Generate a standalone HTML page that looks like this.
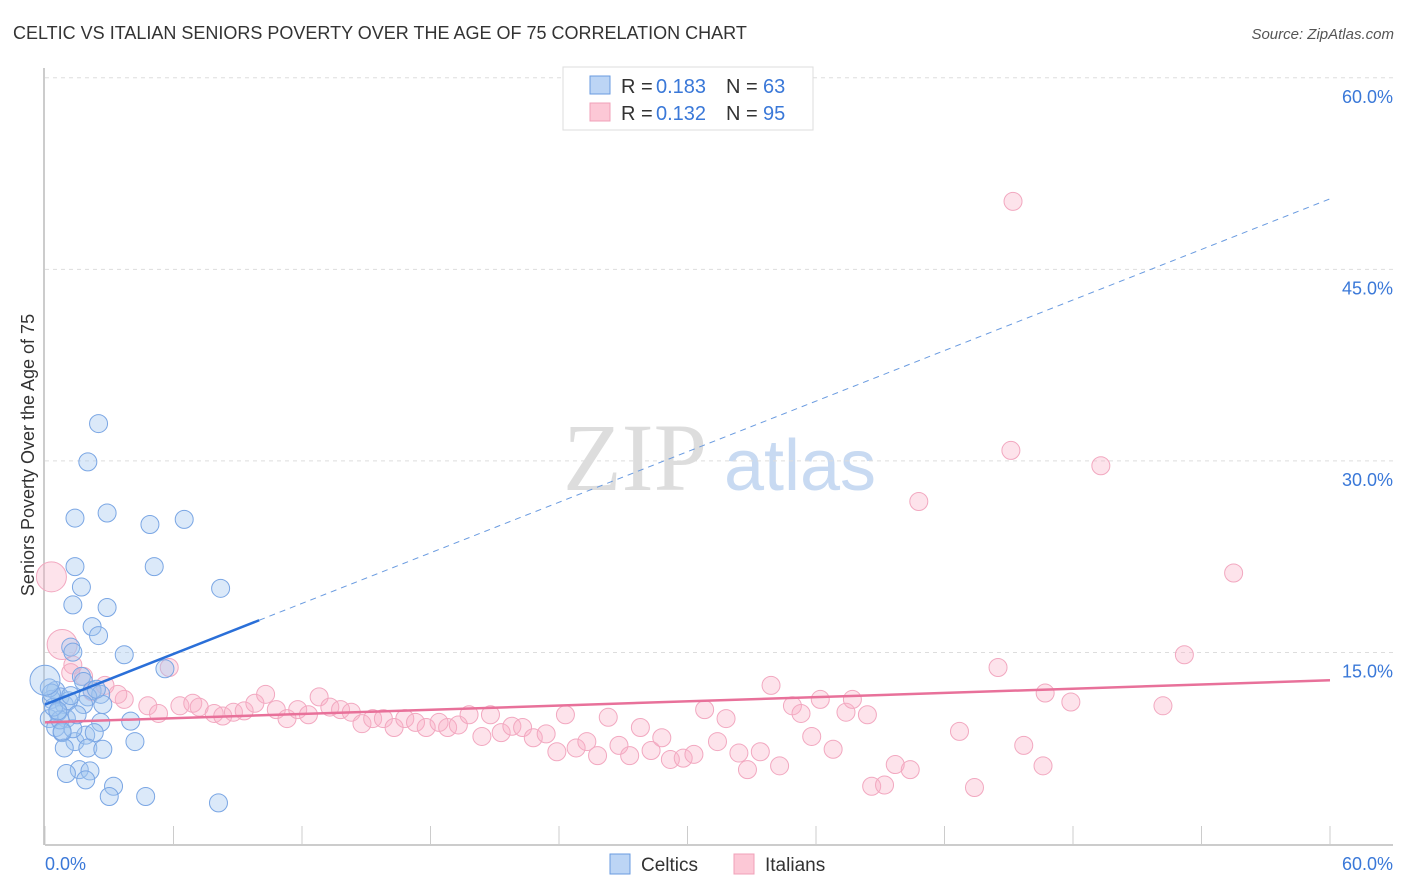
<!DOCTYPE html>
<html><head><meta charset="utf-8"><style>
body{margin:0;background:#fff;font-family:"Liberation Sans",sans-serif;}
svg{display:block}
</style></head><body>
<svg id="chart" width="1406" height="892">
<text x="13" y="39" font-size="18" fill="#333">CELTIC VS ITALIAN SENIORS POVERTY OVER THE AGE OF 75 CORRELATION CHART</text>
<text x="1394" y="39" font-size="15" fill="#555" font-style="italic" text-anchor="end">Source: ZipAtlas.com</text>
<text x="635" y="490" font-size="96" fill="#ddd" font-family="Liberation Serif,serif" text-anchor="middle">ZIP</text>
<text x="800" y="490" font-size="72" fill="#c8daf2" text-anchor="middle">atlas</text>
<text transform="translate(34,455) rotate(-90)" font-size="18" fill="#333" text-anchor="middle">Seniors Poverty Over the Age of 75</text>
<g id="grid"></g><g id="ticks"></g><g id="pts"></g><g id="lines"></g>
<g>
<rect x="563" y="67" width="250" height="63" fill="#fff" stroke="#ddd"/>
<rect x="590" y="76" width="20" height="18" fill="#bcd5f5" stroke="#6a9be0"/>
<text y="93" font-size="20" fill="#333"><tspan x="621">R =</tspan><tspan x="656" fill="#3a78d8">0.183</tspan><tspan x="726">N =</tspan><tspan x="763" fill="#3a78d8">63</tspan></text>
<rect x="590" y="103" width="20" height="18" fill="#fcc8d6" stroke="#f0a0b8"/>
<text y="120" font-size="20" fill="#333"><tspan x="621">R =</tspan><tspan x="656" fill="#3a78d8">0.132</tspan><tspan x="726">N =</tspan><tspan x="763" fill="#3a78d8">95</tspan></text>
</g>
<text x="45" y="870" font-size="18" fill="#3a78d8">0.0%</text>
<text x="1393" y="870" font-size="18" fill="#3a78d8" text-anchor="end">60.0%</text>
<rect x="610" y="854" width="20" height="20" fill="#bcd5f5" stroke="#6a9be0"/>
<text x="641" y="871" font-size="19" fill="#333">Celtics</text>
<rect x="734" y="854" width="20" height="20" fill="#fcc8d6" stroke="#f0a0b8"/>
<text x="765" y="871" font-size="19" fill="#333">Italians</text>
</svg>
<script>
const yTicks=[15,30,45,60];
const yTickLabels=["15.0%","30.0%","45.0%","60.0%"];
const xTicks=[0,6,12,18,24,30,36,42,48,54,60];
const celticX=[2.5,2.0,1.4,2.9,4.9,6.5,1.4,5.1,1.7,8.2,1.3,2.9,2.2,2.5,1.2,1.3,3.7,5.6,1.7,1.8,0.5,0.7,0.3,0.9,0.6,0.2,1.0,0.5,2.2,2.6,2.0,2.7,1.8,4.0,2.6,0.8,1.4,1.9,2.3,2.0,2.7,0.9,4.2,1.6,1.0,2.1,1.9,3.2,3.0,4.7,8.1,0.7,1.3,0.4,1.1,0.2,1.5,0.3,2.4,0.6,1.2,0.8,0.0];
const celticY=[33.0,30.0,25.6,26.0,25.1,25.5,21.8,21.8,20.2,20.1,18.8,18.6,17.1,16.4,15.5,15.1,14.9,13.8,13.2,12.8,12.1,11.6,11.4,11.0,10.4,9.9,9.9,9.2,12.1,11.8,11.6,11.0,11.0,9.7,9.6,8.8,8.1,8.6,8.8,7.6,7.5,7.6,8.1,5.9,5.6,5.8,5.1,4.6,3.8,3.8,3.3,9.8,9.1,10.8,11.3,12.3,10.2,11.9,12.2,10.5,11.7,8.9,12.9];
const italX=[45.2,45.1,49.3,40.8,55.5,0.3,53.2,44.5,0.8,5.8,1.3,1.8,2.8,3.7,4.8,5.3,6.3,6.9,7.2,7.9,8.3,8.8,9.3,9.8,10.3,10.8,11.3,11.8,12.3,12.8,13.3,13.8,14.3,14.8,15.3,15.8,16.3,16.8,17.3,17.8,18.4,18.8,19.3,19.8,20.4,20.8,21.3,21.8,22.3,22.8,23.4,23.9,24.3,24.8,25.3,25.8,26.3,26.8,27.3,27.8,28.3,28.8,29.2,29.8,30.3,30.8,31.4,31.8,32.4,32.8,33.4,33.9,34.3,34.9,35.3,35.8,36.2,36.8,37.4,37.7,38.4,38.6,39.2,39.7,40.4,42.7,43.4,45.7,46.6,46.7,47.9,52.2,3.4,2.2,1.2];
const italY=[50.4,30.9,29.7,26.9,21.3,21.0,14.9,13.9,15.7,13.9,14.1,13.2,12.5,11.4,10.9,10.3,10.9,11.1,10.8,10.3,10.1,10.4,10.5,11.1,11.8,10.6,9.9,10.6,10.2,11.6,10.8,10.6,10.4,9.5,9.9,9.9,9.2,9.9,9.6,9.2,9.6,9.2,9.4,10.2,8.5,10.2,8.8,9.3,9.2,8.4,8.7,7.3,10.2,7.6,8.1,7.0,10.0,7.8,7.0,9.2,7.4,8.4,6.7,6.8,7.1,10.6,8.1,9.9,7.2,5.9,7.3,12.5,6.2,10.9,10.3,8.5,11.4,7.5,10.4,11.4,10.2,4.6,4.7,6.3,5.9,8.9,4.5,7.8,6.2,11.9,11.2,10.9,11.8,12.0,13.5];
const celticTrend=[11.0,0.66];
const italTrend=[9.6,0.055];
const NS="http://www.w3.org/2000/svg";
const X=v=>45+v/60*1285, Y=v=>845-v*12.77;
function mk(t,a,p){const e=document.createElementNS(NS,t);for(const k in a)e.setAttribute(k,a[k]);document.getElementById(p).appendChild(e);return e;}
yTicks.forEach((t,i)=>{
 const g=mk('line',{x1:45,x2:1393,y1:Y(t)-1,y2:Y(t)-1,stroke:'#ddd','stroke-dasharray':'4,4'},'grid');
 
 
 const tx=mk('text',{x:1393,y:Y(t)+24,'font-size':18,fill:'#3a78d8','text-anchor':'end'},'grid');
 tx.textContent=yTickLabels[i];
 
 
});
const ax=mk('line',{x1:45,x2:1393,y1:845,y2:845,stroke:'#bbb','stroke-width':1.5},'ticks');


const ay=mk('line',{x1:44,x2:44,y1:68,y2:845,stroke:'#bbb','stroke-width':1.5},'ticks');


xTicks.forEach(t=>{const l=mk('line',{x1:X(t),x2:X(t),y1:826,y2:845,stroke:'#ccc'},'ticks');
 
 });
function pts(xs,ys,fill,stroke,name){xs.forEach((x,i)=>{
 const big=(x===0&&ys[i]>12.5)||(x<=0.8&&ys[i]>=15.5);
 const c=mk('circle',{cx:X(x),cy:Y(ys[i]),r:big?15:9,fill:fill,stroke:stroke,'stroke-width':1},'pts');
 
 });}
pts(italX,italY,'rgba(248,175,198,0.35)','#f2a8c0','italian-point');
pts(celticX,celticY,'rgba(160,196,240,0.38)','#7aa6e4','celtic-point');
let l=mk('line',{x1:X(0),y1:Y(italTrend[0]),x2:X(60),y2:Y(italTrend[0]+italTrend[1]*60),stroke:'#e8719a','stroke-width':2.5},'lines');


l=mk('line',{x1:X(0),y1:Y(celticTrend[0]),x2:X(10),y2:Y(celticTrend[0]+celticTrend[1]*10),stroke:'#2a6fd8','stroke-width':2.5},'lines');


l=mk('line',{x1:X(10),y1:Y(celticTrend[0]+celticTrend[1]*10),x2:X(60),y2:Y(celticTrend[0]+celticTrend[1]*60),stroke:'#6a9be0','stroke-width':1,'stroke-dasharray':'6,5'},'lines');


</script>
</body></html>
